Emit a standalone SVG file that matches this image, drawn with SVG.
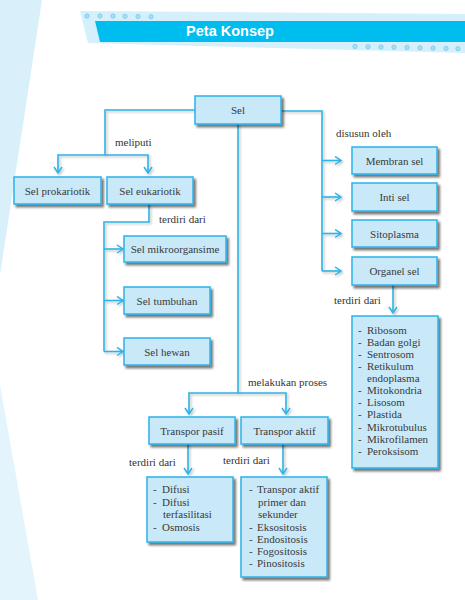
<svg xmlns="http://www.w3.org/2000/svg" width="465" height="600" viewBox="0 0 465 600">
<defs>
<filter id="sh" x="-20%" y="-20%" width="150%" height="150%">
<feDropShadow dx="2.2" dy="2.6" stdDeviation="1.2" flood-color="#000" flood-opacity="0.55"/>
</filter>
<filter id="lsh" x="-20%" y="-20%" width="150%" height="150%">
<feDropShadow dx="1.5" dy="1.5" stdDeviation="1" flood-color="#000" flood-opacity="0.25"/>
</filter>
<marker id="arr" viewBox="0 0 8 10" refX="7" refY="5" markerWidth="8" markerHeight="10" markerUnits="userSpaceOnUse" orient="auto">
<path d="M1,1 L7,5 L1,9" fill="none" stroke="#2db3e8" stroke-width="1.5"/>
</marker>
</defs>
<style>
.box{fill:#c9e9f9;stroke:#2ab2ea;stroke-width:1.5;filter:url(#sh)}
.t{font-family:"Liberation Serif","Times New Roman",serif;font-size:11px;fill:#3a3a3a}
.c{text-anchor:middle}
.lab{font-family:"Liberation Serif","Times New Roman",serif;font-size:11px;fill:#333}
.con{fill:none;stroke:#2db3e8;stroke-width:1.6}
.ar{marker-end:url(#arr)}
.dot{fill:#a9ddf4;stroke:#5fc6ee;stroke-width:0.6}
</style>
<rect width="465" height="600" fill="#fff"/>
<polygon points="0,0 42,0 0,275" fill="#d9f0fb"/>
<polygon points="0,385 38,600 0,600" fill="#e4f4fc"/>
<g id="banner">
<polygon points="80,11 465,14 465,53 88,43" fill="#d6f0fb"/>
<polygon points="95,21 465,21 465,42 100,42" fill="#00bdf0"/>
<g>
<circle class="dot" cx="87" cy="16" r="2.2"/><circle class="dot" cx="100" cy="16" r="2.2"/><circle class="dot" cx="113" cy="16" r="2.2"/><circle class="dot" cx="125" cy="16.3" r="2.2"/><circle class="dot" cx="138" cy="16.5" r="2.2"/><circle class="dot" cx="151" cy="16.7" r="2.2"/>
<circle class="dot" cx="355" cy="46.5" r="2.2"/><circle class="dot" cx="368" cy="46.7" r="2.2"/><circle class="dot" cx="381" cy="47" r="2.2"/><circle class="dot" cx="394" cy="47.2" r="2.2"/><circle class="dot" cx="407" cy="47.5" r="2.2"/><circle class="dot" cx="420" cy="47.8" r="2.2"/><circle class="dot" cx="433" cy="48.1" r="2.2"/><circle class="dot" cx="446" cy="48.4" r="2.2"/><circle class="dot" cx="458" cy="48.7" r="2.2"/>
</g>
<text x="230" y="36" text-anchor="middle" font-family="'Liberation Sans',Arial,sans-serif" font-weight="bold" font-size="14.5" fill="#fff">Peta Konsep</text>
</g>
<g id="connectors" filter="url(#lsh)">
<path class="con" d="M195,110 H105 V155"/>
<path class="con ar" d="M105,155 H58 V173"/>
<path class="con ar" d="M105,155 H148 V173"/>
<path class="con" d="M281,111 H322 V271"/>
<path class="con ar" d="M322,160.5 H341"/>
<path class="con ar" d="M322,197 H341"/>
<path class="con ar" d="M322,233.5 H341"/>
<path class="con ar" d="M322,271 H341"/>
<path class="con" d="M238,124 V393"/>
<path class="con ar" d="M238,393 H189 V414"/>
<path class="con ar" d="M238,393 H286 V414"/>
<path class="con" d="M149,204 V222 H104 V351.5"/>
<path class="con ar" d="M104,249 H123"/>
<path class="con ar" d="M104,300.5 H123"/>
<path class="con ar" d="M104,351.5 H123"/>
<path class="con ar" d="M393,285 V313"/>
<path class="con ar" d="M188,444 V474"/>
<path class="con ar" d="M283,444 V474"/>
</g>
<g id="labels">
<text class="lab" x="115" y="146">meliputi</text>
<text class="lab" x="336" y="137">disusun oleh</text>
<text class="lab" x="159" y="223">terdiri dari</text>
<text class="lab" x="334" y="304">terdiri dari</text>
<text class="lab" x="248" y="386">melakukan proses</text>
<text class="lab" x="129" y="466">terdiri dari</text>
<text class="lab" x="223" y="464">terdiri dari</text>
</g>
<g id="sel"><rect class="box" x="195" y="96" width="86" height="28"/><text class="t c" x="238" y="114">Sel</text></g>
<g id="prokariotik"><rect class="box" x="14" y="177" width="87" height="27"/><text class="t c" x="57.5" y="194.5">Sel prokariotik</text></g>
<g id="eukariotik"><rect class="box" x="107" y="177" width="86" height="27"/><text class="t c" x="150" y="194.5">Sel eukariotik</text></g>
<g id="mikroorganisme"><rect class="box" x="124" y="236" width="102" height="26"/><text class="t c" x="175" y="253">Sel mikroorgansime</text></g>
<g id="tumbuhan"><rect class="box" x="124" y="287" width="86" height="27"/><text class="t c" x="167" y="304.5">Sel tumbuhan</text></g>
<g id="hewan"><rect class="box" x="124" y="338" width="86" height="27"/><text class="t c" x="167" y="355.5">Sel hewan</text></g>
<g id="membran"><rect class="box" x="352" y="147" width="85" height="27"/><text class="t c" x="394.5" y="164.5">Membran sel</text></g>
<g id="inti"><rect class="box" x="352" y="183" width="85" height="28"/><text class="t c" x="394.5" y="201">Inti sel</text></g>
<g id="sitoplasma"><rect class="box" x="352" y="220" width="85" height="27"/><text class="t c" x="394.5" y="237.5">Sitoplasma</text></g>
<g id="organel"><rect class="box" x="352" y="257" width="85" height="28"/><text class="t c" x="394.5" y="275">Organel sel</text></g>
<g id="organel-list"><rect class="box" x="352" y="316" width="86" height="152"/>
<g class="t">
<text x="358" y="334">-</text><text x="367" y="334">Ribosom</text>
<text x="358" y="346">-</text><text x="367" y="346">Badan golgi</text>
<text x="358" y="358">-</text><text x="367" y="358">Sentrosom</text>
<text x="358" y="370">-</text><text x="367" y="370">Retikulum</text>
<text x="367" y="382">endoplasma</text>
<text x="358" y="394">-</text><text x="367" y="394">Mitokondria</text>
<text x="358" y="406">-</text><text x="367" y="406">Lisosom</text>
<text x="358" y="418">-</text><text x="367" y="418">Plastida</text>
<text x="358" y="431">-</text><text x="367" y="431">Mikrotubulus</text>
<text x="358" y="443">-</text><text x="367" y="443">Mikrofilamen</text>
<text x="358" y="455">-</text><text x="367" y="455">Peroksisom</text>
</g></g>
<g id="pasif"><rect class="box" x="149" y="417" width="86" height="27"/><text class="t c" x="192" y="434.5">Transpor pasif</text></g>
<g id="aktif"><rect class="box" x="241" y="417" width="87" height="27"/><text class="t c" x="284.5" y="434.5">Transpor aktif</text></g>
<g id="pasif-list"><rect class="box" x="147" y="477" width="86" height="65"/>
<g class="t">
<text x="153" y="493">-</text><text x="162" y="493">Difusi</text>
<text x="153" y="506">-</text><text x="162" y="506">Difusi</text>
<text x="163" y="518">terfasilitasi</text>
<text x="153" y="531">-</text><text x="162" y="531">Osmosis</text>
</g></g>
<g id="aktif-list"><rect class="box" x="241" y="477" width="86" height="100"/>
<g class="t">
<text x="249" y="493">-</text><text x="257" y="493">Transpor aktif</text>
<text x="258" y="506">primer dan</text>
<text x="258" y="518">sekunder</text>
<text x="249" y="531">-</text><text x="257" y="531">Eksositosis</text>
<text x="249" y="543">-</text><text x="257" y="543">Endositosis</text>
<text x="249" y="555">-</text><text x="257" y="555">Fogositosis</text>
<text x="249" y="567">-</text><text x="257" y="567">Pinositosis</text>
</g></g>
</svg>
